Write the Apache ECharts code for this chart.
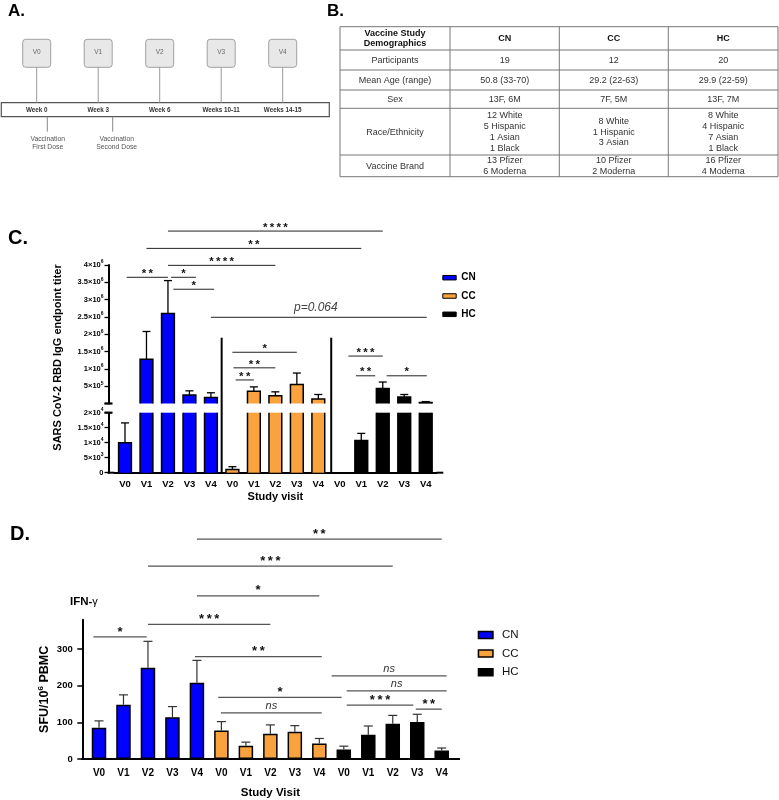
<!DOCTYPE html>
<html><head><meta charset="utf-8">
<script src="https://cdn.jsdelivr.net/npm/echarts@6/dist/echarts.min.js"></script>
<style>html,body{margin:0;padding:0;background:#fff}#main{width:779px;height:800px}</style>
</head><body><div id="main"></div>
<script>
// ================= DATA =================
const groups = ['CN', 'CC', 'HC'];
const visits = ['V0', 'V1', 'V2', 'V3', 'V4'];

// Panel C: SARS CoV-2 RBD IgG endpoint titer, mean and SEM per visit
const iggCN    = [10000, 1280000, 2600000, 245000, 170000];
const iggCNsem = [6600, 800000, 950000, 121000, 140000];
const iggCC    = [1100, 357000, 225000, 550000, 130000];
const iggCCsem = [900, 123000, 112000, 330000, 130000];
const iggHC    = [null, 10700, 430000, 186000, 30000];
const iggHCsem = [null, 2400, 190000, 74000, 25000];
const iggUpperRange = [0, 4000000], iggUpperStep = 500000;
const iggLowerRange = [0, 20000],   iggLowerStep = 5000;

// Panel D: IFN-gamma SFU / 10^6 PBMC, mean and SEM per visit
const ifnCN    = [85, 148, 249, 114, 208];
const ifnCNsem = [19, 27, 72, 29, 61];
const ifnCC    = [78, 36, 69, 74, 42];
const ifnCCsem = [24, 10, 24, 17, 14];
const ifnHC    = [26, 66, 96, 101, 23];
const ifnHCsem = [9, 24, 23, 21, 7];
const ifnRange = [0, 380], ifnStep = 100;
const ifnTicks = [0, 100, 200, 300];

// significance brackets: [from category index, to category index, label, level in axis units]
const sigC = [
  [2, 12, '****', 4980000],
  [1, 11, '**', 4480000],
  [2, 7, '****', 3990000],
  [0.08, 2, '**', 3645000],
  [2.15, 3.3, '*', 3645000],
  [2.25, 4.15, '*', 3300000],
  [4, 14.05, 'p=0.064', 2490000],
  [5, 8, '*', 1480000],
  [5.05, 7, '**', 1030000],
  [5.15, 6, '**', 680000],
  [10.4, 12, '***', 1370000],
  [10.75, 11.65, '**', 800000],
  [12.18, 14.05, '*', 800000]
];
const sigD = [
  [4, 14, '**', 600],
  [2, 12, '***', 526],
  [4, 9, '*', 445],
  [2, 7, '***', 367],
  [-0.23, 1.95, '*', 333],
  [3.92, 9.1, '**', 279],
  [9.5, 14.2, 'ns', 227],
  [10.12, 14.2, 'ns', 186],
  [4.87, 9.91, '*', 168],
  [10.12, 12.84, '***', 147],
  [12.94, 14, '**', 136],
  [4.98, 9.1, 'ns', 126]
];
const groupDividers = [4.5, 9.6];

// Panel A: study timeline
const timelineVisits = ['V0', 'V1', 'V2', 'V3', 'V4'];
const timelineWeeks = ['Week 0', 'Week 3', 'Week 6', 'Weeks 10-11', 'Weeks 14-15'];
const doseNotes = ['Vaccination\nFirst Dose', 'Vaccination\nSecond Dose'];

// Panel B: demographics table
const tableHeader = ['Vaccine Study\nDemographics', 'CN', 'CC', 'HC'];
const tableRows = [
  ['Participants', '19', '12', '20'],
  ['Mean Age (range)', '50.8 (33-70)', '29.2 (22-63)', '29.9 (22-59)'],
  ['Sex', '13F, 6M', '7F, 5M', '13F, 7M'],
  ['Race/Ethnicity', '12 White\n5 Hispanic\n1 Asian\n1 Black', '8 White\n1 Hispanic\n3 Asian', '8 White\n4 Hispanic\n7 Asian\n1 Black'],
  ['Vaccine Brand', '13 Pfizer\n6 Moderna', '10 Pfizer\n2 Moderna', '16 Pfizer\n4 Moderna']
];

// ================= STYLE / LAYOUT =================
const FONT = '"Liberation Sans", Arial, Helvetica, sans-serif';
const COLORS = { CN: '#0000ff', CC: '#f9a23e', HC: '#000000' };
const C_LEFT = 114.26, C_WIDTH = 322.2, C_UP_TOP = 265, C_UP_H = 138.5, C_LO_TOP = 412.7, C_LO_H = 60;
const C_AXIS_X = 108.5, C_AXIS_END = 443.3;
const D_LEFT = 86.76, D_WIDTH = 367.2, D_BOTTOM = 759, D_H = 139.3;
const D_AXIS_X = 82.3, D_AXIS_END = 460;

const cats = [];
groups.forEach(g => visits.forEach(v => cats.push(g + ' ' + v)));
const iggMean = { CN: iggCN, CC: iggCC, HC: iggHC };
const iggSem = { CN: iggCNsem, CC: iggCCsem, HC: iggHCsem };
const ifnMean = { CN: ifnCN, CC: ifnCC, HC: ifnHC };
const ifnSem = { CN: ifnCNsem, CC: ifnCCsem, HC: ifnHCsem };
const breakValue = iggLowerRange[1];

function sciLabel(v) {
  if (v === 0) return '{n|0}';
  const e = Math.floor(Math.log10(v) + 1e-9);
  const m = Math.round(v / Math.pow(10, e) * 100) / 100;
  return '{n|' + m + '×10}{s|' + e + '}';
}
const sciRich = {
  n: { fontSize: 7.5, fontWeight: 'bold', fontFamily: FONT, color: '#000', lineHeight: 11 },
  s: { fontSize: 5, fontWeight: 'bold', fontFamily: FONT, color: '#000', verticalAlign: 'top', lineHeight: 6 }
};

const C_BAR_W = 12.8, C_CAP = 8;
function igBarRender(part, color) {
  return function (params, api) {
    const i = api.value(0), v = api.value(1), sem = api.value(2);
    if (isNaN(v)) return;
    const cs = params.coordSys;
    const gTop = cs.y, gBot = cs.y + cs.height;
    const upper = v >= breakValue;
    if (part === 'upper' && !upper) return;
    const p = api.coord([i, v]);
    const b = api.coord([i, 0]);
    const l = p[0] - C_BAR_W / 2, r = p[0] + C_BAR_W / 2;
    const cut = p[1] < gTop;
    const yT = cut ? gTop : p[1];
    const yB = Math.min(b[1], gBot);
    const kids = [{ type: 'rect', shape: { x: l, y: yT, width: r - l, height: yB - yT }, style: { fill: color } }];
    const st = { stroke: '#000', lineWidth: 1.5, fill: null };
    if (cut) {
      kids.push({ type: 'line', shape: { x1: l, y1: yB, x2: l, y2: yT }, style: st });
      kids.push({ type: 'line', shape: { x1: r, y1: yB, x2: r, y2: yT }, style: st });
    } else {
      kids.push({ type: 'polyline', shape: { points: [[l, yB], [l, yT], [r, yT], [r, yB]] }, style: st });
      if (!isNaN(sem) && sem > 0) {
        const e = api.coord([i, v + sem]);
        const es = { stroke: '#000', lineWidth: 1.3 };
        kids.push({ type: 'line', shape: { x1: p[0], y1: yT, x2: p[0], y2: e[1] }, style: es });
        kids.push({ type: 'line', shape: { x1: p[0] - C_CAP / 2, y1: e[1], x2: p[0] + C_CAP / 2, y2: e[1] }, style: es });
      }
    }
    return { type: 'group', children: kids };
  };
}
function errRender(params, api) {
  const i = api.value(0), v = api.value(1), sem = api.value(2);
  const p = api.coord([i, v]);
  const e = api.coord([i, v + sem]);
  const es = { stroke: '#333', lineWidth: 1.2 };
  return { type: 'group', children: [
    { type: 'line', shape: { x1: p[0], y1: p[1], x2: p[0], y2: e[1] }, style: es },
    { type: 'line', shape: { x1: p[0] - 4.5, y1: e[1], x2: p[0] + 4.5, y2: e[1] }, style: es }
  ] };
}

const series = [];
groups.forEach((g, gi) => {
  const data = [];
  visits.forEach((v, k) => { if (iggMean[g][k] != null) data.push([gi * 5 + k, iggMean[g][k], iggSem[g][k]]); });
  series.push({ name: g, type: 'custom', xAxisIndex: 0, yAxisIndex: 0, renderItem: igBarRender('upper', COLORS[g]), data, encode: { x: 0, y: 1 }, itemStyle: { color: COLORS[g] }, silent: true });
  series.push({ name: g, type: 'custom', xAxisIndex: 1, yAxisIndex: 1, renderItem: igBarRender('lower', COLORS[g]), data, encode: { x: 0, y: 1 }, itemStyle: { color: COLORS[g] }, silent: true });
});
const errD = [];
groups.forEach((g, gi) => {
  const data = cats.map(() => '-');
  visits.forEach((v, k) => { data[gi * 5 + k] = ifnMean[g][k]; errD.push([gi * 5 + k, ifnMean[g][k], ifnSem[g][k]]); });
  series.push({ name: g, type: 'bar', xAxisIndex: 2, yAxisIndex: 2, data, barWidth: 14.5, barGap: '-100%',
    itemStyle: { color: COLORS[g], borderColor: '#000', borderWidth: 1.5 }, silent: true });
});
series.push({ name: 'err', type: 'custom', xAxisIndex: 2, yAxisIndex: 2, renderItem: errRender, data: errD, encode: { x: 0, y: 1 }, z: 3, silent: true });

const axisLineStyle = { show: true, lineStyle: { color: '#000', width: 2 } };
const catLabel = { fontSize: 9.5, fontWeight: 'bold', color: '#000', fontFamily: FONT, formatter: c => c.split(' ')[1] };

const legendItems = groups.map(g => ({ name: g, icon: 'rect', itemStyle: { color: COLORS[g], borderColor: '#000', borderWidth: 1 } }));

const option = {
  animation: false,
  backgroundColor: '#fff',
  textStyle: { fontFamily: FONT },
  grid: [
    { left: C_LEFT, top: C_UP_TOP, width: C_WIDTH, height: C_UP_H },
    { left: C_LEFT, top: C_LO_TOP, width: C_WIDTH, height: C_LO_H },
    { left: D_LEFT, top: D_BOTTOM - D_H, width: D_WIDTH, height: D_H }
  ],
  xAxis: [
    { type: 'category', gridIndex: 0, data: cats, show: false },
    { type: 'category', gridIndex: 1, data: cats, axisLine: axisLineStyle,
      axisTick: { alignWithLabel: true, length: 4, lineStyle: { color: '#000', width: 1.5 } },
      axisLabel: Object.assign({ margin: 6.5 }, catLabel),
      name: 'Study visit', nameLocation: 'middle', nameGap: 18.5,
      nameTextStyle: { fontSize: 11, fontWeight: 'bold', color: '#000', fontFamily: FONT } },
    { type: 'category', gridIndex: 2, data: cats, axisLine: axisLineStyle,
      axisTick: { alignWithLabel: true, length: 5, lineStyle: { color: '#000', width: 1.5 } },
      axisLabel: Object.assign({ margin: 9 }, catLabel, { fontSize: 10 }),
      name: 'Study Visit', nameLocation: 'middle', nameGap: 27.5,
      nameTextStyle: { fontSize: 11.5, fontWeight: 'bold', color: '#000', fontFamily: FONT } }
  ],
  yAxis: [
    { type: 'value', gridIndex: 0, min: iggUpperRange[0], max: iggUpperRange[1], interval: iggUpperStep,
      offset: C_LEFT - C_AXIS_X, axisLine: axisLineStyle, splitLine: { show: false },
      axisTick: { show: true, length: 4, lineStyle: { color: '#000', width: 1.3 } },
      axisLabel: { margin: 5, formatter: v => (v === 0 ? '' : sciLabel(v)), rich: sciRich } },
    { type: 'value', gridIndex: 1, min: iggLowerRange[0], max: iggLowerRange[1], interval: iggLowerStep,
      offset: C_LEFT - C_AXIS_X, axisLine: axisLineStyle, splitLine: { show: false },
      axisTick: { show: true, length: 4, lineStyle: { color: '#000', width: 1.3 } },
      axisLabel: { margin: 5, formatter: sciLabel, rich: sciRich } },
    { type: 'value', gridIndex: 2, min: ifnRange[0], max: ifnRange[1], interval: ifnStep,
      offset: D_LEFT - D_AXIS_X, axisLine: axisLineStyle, splitLine: { show: false },
      axisTick: { show: true, length: 5, customValues: ifnTicks, lineStyle: { color: '#000', width: 1.5 } },
      axisLabel: { margin: 9.6, customValues: ifnTicks, fontSize: 9.5, fontWeight: 'bold', color: '#000', fontFamily: FONT,
        formatter: v => (v % ifnStep === 0 ? String(v) : '') },
      name: '{a|SFU/10}{s|6}{a| PBMC}', nameLocation: 'middle', nameRotate: 90, nameGap: 30,
      nameTextStyle: { fontSize: 12.5, fontWeight: 'bold', color: '#000', fontFamily: FONT,
        rich: {
          a: { fontSize: 12.5, fontWeight: 'bold', color: '#000', fontFamily: FONT, lineHeight: 16 },
          s: { fontSize: 8, fontWeight: 'bold', color: '#000', fontFamily: FONT, verticalAlign: 'top', lineHeight: 8 } } } }
  ],
  legend: [
    { data: legendItems, orient: 'vertical', left: 437.3, top: 266.7, itemWidth: 13.4, itemHeight: 4.5, itemGap: 6.3,
      selectedMode: false, textStyle: { fontSize: 10, fontWeight: 'bold', color: '#000', fontFamily: FONT, lineHeight: 12 } },
    { data: groups.map(g => ({ name: g, icon: 'rect', itemStyle: { color: COLORS[g], borderColor: '#000', borderWidth: 1.5 } })),
      orient: 'vertical', left: 472.7, top: 623.5, itemWidth: 14.5, itemHeight: 7, itemGap: 5.6,
      selectedMode: false, textStyle: { fontSize: 11.5, color: '#111', fontFamily: FONT, lineHeight: 13, padding: [0, 0, 0, 4] } }
  ],
  series
};

const chart = echarts.init(document.getElementById('main'), null, { renderer: 'canvas', width: 779, height: 800 });
chart.setOption(option);

// ================= ANNOTATIONS =================
const graphics = [];
function gLine(x1, y1, x2, y2, stroke, lw) {
  graphics.push({ type: 'line', silent: true, z: 50, shape: { x1, y1, x2, y2 }, style: { stroke, lineWidth: lw } });
}
function gText(x, y, text, o) {
  o = o || {};
  const style = { text, fill: o.fill || '#000', fontSize: o.size || 10, fontWeight: o.weight || 'normal',
    fontStyle: o.fstyle || 'normal', fontFamily: FONT,
    align: o.align || 'center', textAlign: o.align || 'center',
    verticalAlign: o.va || 'middle', textVerticalAlign: o.va || 'middle' };
  if (o.lh) style.lineHeight = o.lh;
  if (o.rich) style.rich = o.rich;
  graphics.push({ type: 'text', silent: true, z: 50, x, y, rotation: o.rot || 0, style });
}
function gRect(x, y, w, h, fill, stroke, lw, r) {
  graphics.push({ type: 'rect', silent: true, z: 40, shape: { x, y, width: w, height: h, r: r || 0 }, style: { fill, stroke, lineWidth: lw } });
}

// Panel letters
gText(8, 11, 'A.', { size: 17, weight: 'bold', align: 'left' });
gText(327, 11, 'B.', { size: 17, weight: 'bold', align: 'left' });
gText(8, 238, 'C.', { size: 20, weight: 'bold', align: 'left' });
gText(10, 534.5, 'D.', { size: 20, weight: 'bold', align: 'left' });

// Panel A timeline
const tlX0 = 36.7, tlStep = 61.5;
gRect(1.3, 102.7, 328, 14, '#fff', '#555', 1.2);
timelineVisits.forEach((v, k) => {
  const cx = tlX0 + k * tlStep;
  gRect(cx - 14, 39.3, 28, 28, '#e8e8e8', '#a0a0a0', 1, 3);
  gText(cx, 52.5, v, { size: 6.5, fill: '#666' });
  gLine(cx, 67.3, cx, 102.7, '#9a9a9a', 1);
  gText(cx, 109.8, timelineWeeks[k], { size: 6.3, weight: 'bold', fill: '#333' });
});
const doseX = [47.3, 112.7];
doseNotes.forEach((t, k) => {
  gLine(doseX[k], 116.7, doseX[k], 131.7, '#888', 1);
  gText(doseX[k] + (k ? 4 : 0.4), 143.2, t, { size: 6.8, fill: '#555', lh: 7.7 });
});

// Panel B table
const colX = [340, 450, 559.3, 668.3, 778];
const rowY = [26.7, 50, 70, 90, 108.3, 155, 176.7];
gRect(colX[0], rowY[0], colX[4] - colX[0], rowY[6] - rowY[0], '#fff', '#777', 1);
for (let r = 1; r < rowY.length - 1; r++) gLine(colX[0], rowY[r], colX[4], rowY[r], '#777', 1);
for (let c = 1; c < colX.length - 1; c++) gLine(colX[c], rowY[0], colX[c], rowY[6], '#777', 1);
tableHeader.forEach((t, c) => {
  gText((colX[c] + colX[c + 1]) / 2, (rowY[0] + rowY[1]) / 2, t, { size: 9, weight: 'bold', fill: '#111', lh: 10 });
});
tableRows.forEach((row, r) => {
  row.forEach((t, c) => {
    gText((colX[c] + colX[c + 1]) / 2, (rowY[r + 1] + rowY[r + 2]) / 2 + 0.5, t, { size: 9, fill: '#333', lh: 10.8 });
  });
});

// helpers for axis-based positions
function xPix(axisIdx, f) {
  const a = chart.convertToPixel({ xAxisIndex: axisIdx }, cats[0]);
  const b = chart.convertToPixel({ xAxisIndex: axisIdx }, cats[1]);
  return a + f * (b - a);
}
function yPix(axisIdx, v) { return chart.convertToPixel({ yAxisIndex: axisIdx }, v); }
function starText(s) { return s.split('').join('\u2009'); }

// Panel C extras
gText(58.3, 357.5, 'SARS CoV-2 RBD IgG endpoint titer', { size: 11, weight: 'bold', rot: Math.PI / 2 });
const cBase = yPix(1, 0);
gLine(C_AXIS_X - 1, cBase, C_LEFT, cBase, '#000', 2);
gLine(C_LEFT + C_WIDTH, cBase, C_AXIS_END, cBase, '#000', 2);
const upBot = yPix(0, iggUpperRange[0]), loTop = yPix(1, iggLowerRange[1]);
gLine(C_AXIS_X - 4, upBot, C_AXIS_X + 4, upBot, '#000', 2.2);
gLine(C_AXIS_X - 4, loTop, C_AXIS_X + 4, loTop, '#000', 2.2);
groupDividers.forEach(f => {
  const x = xPix(1, f);
  gLine(x, cBase, x, yPix(0, 1900000), '#000', 2);
});
sigC.forEach(([a, b, lab, lvl]) => {
  const x1 = xPix(1, a), x2 = xPix(1, b), y = yPix(0, lvl);
  gLine(x1, y, x2, y, '#222', 1);
  if (lab.startsWith('p')) gText((x1 + x2) / 2 - 3, y - 10, lab, { size: 12, fstyle: 'italic', fill: '#444' });
  else gText((x1 + x2) / 2, y + 2.5, starText(lab), { size: 11.5, weight: 'bold', va: 'bottom', fill: '#111' });
});

// Panel D extras
gText(70, 601.7, '{b|IFN-}{g|γ}', { align: 'left', rich: {
  b: { fontSize: 11.5, fontWeight: 'bold', fontFamily: FONT, color: '#000' },
  g: { fontSize: 11, fontFamily: FONT, color: '#000' } } });
const dBase = yPix(2, 0);
gLine(D_AXIS_X - 1, dBase, D_LEFT, dBase, '#000', 2);
gLine(D_LEFT + D_WIDTH, dBase, D_AXIS_END, dBase, '#000', 2);
sigD.forEach(([a, b, lab, lvl]) => {
  const x1 = xPix(2, a), x2 = xPix(2, b), y = yPix(2, lvl);
  gLine(x1, y, x2, y, '#555', 1.3);
  if (lab === 'ns') gText((x1 + x2) / 2, y - 1, lab, { size: 11, fstyle: 'italic', va: 'bottom', fill: '#333' });
  else gText((x1 + x2) / 2, y + 1.5, starText(lab), { size: 13, weight: 'bold', va: 'bottom', fill: '#111' });
});

chart.setOption({ graphic: { elements: graphics } });
</script>
</body></html>
